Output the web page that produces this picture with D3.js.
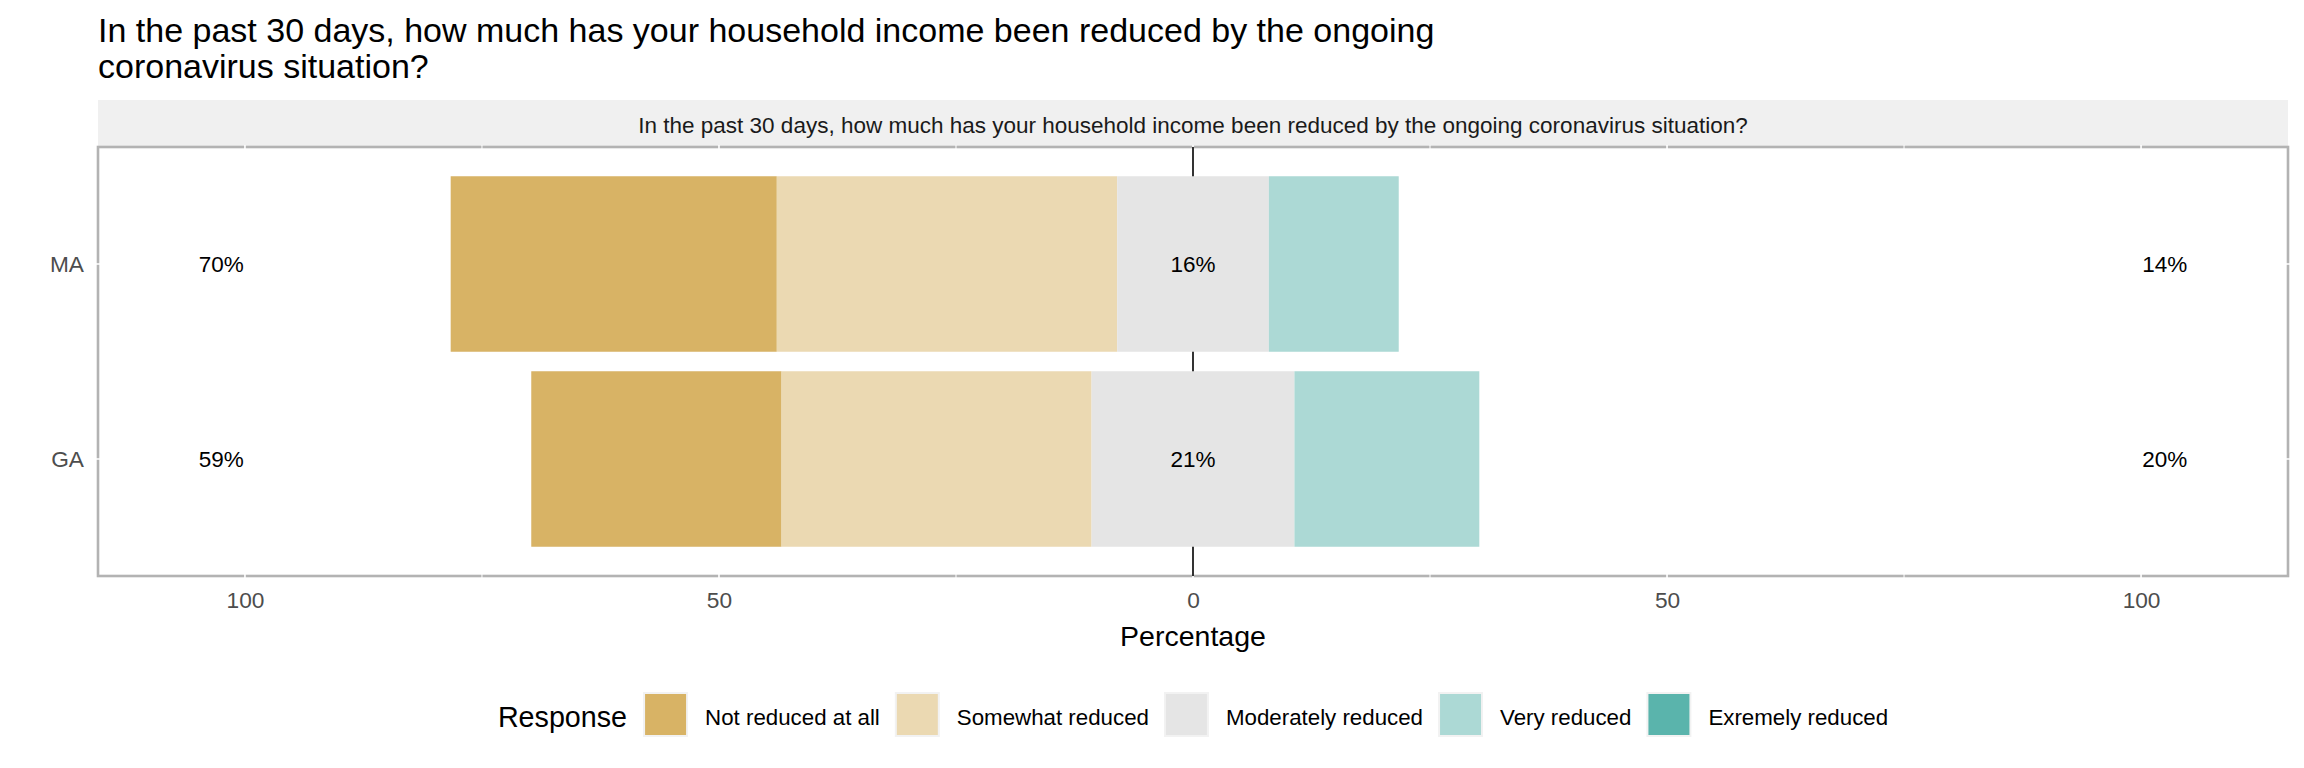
<!DOCTYPE html>
<html>
<head>
<meta charset="utf-8">
<script src="https://cdn.jsdelivr.net/npm/d3@7"></script>
<style>
  body { margin: 0; background: #fff; }
  svg { display: block; font-family: "Liberation Sans", Arial, sans-serif; }
</style>
</head>
<body>
<svg id="chart" width="2304" height="768"></svg>
<script>
// data
const groups = ["MA", "GA"];
const responses = ["Not reduced at all", "Somewhat reduced", "Moderately reduced", "Very reduced", "Exremely reduced"];
const notReduced = [34.4, 26.4];
const somewhatReduced = [35.9, 32.7];
const moderatelyReduced = [16.0, 21.4];
const veryReduced = [13.7, 19.5];
const extremelyReduced = [0, 0];
const xTicks = [-100, -50, 0, 50, 100];
const xMinor = [-75, -25, 25, 75];
const colors = ["#D8B365", "#EBD9B2", "#E5E5E5", "#ACD9D5", "#5AB4AC"];

const title = ["In the past 30 days, how much has your household income been reduced by the ongoing", "coronavirus situation?"];
const stripText = "In the past 30 days, how much has your household income been reduced by the ongoing coronavirus situation?";

const svg = d3.select("#chart");
const panel = { left: 98, right: 2288, top: 147, bottom: 576 };

const x = d3.scaleLinear().domain([-115.5, 115.5]).range([panel.left, panel.right]);
const y = d3.scalePoint().domain(groups).range([panel.top, panel.bottom]).padding(0.6);
const barH = y.step() * 0.9;

// build segments
const series = [notReduced, somewhatReduced, moderatelyReduced, veryReduced, extremelyReduced];
const segs = [];
groups.forEach((g, i) => {
  let start = -(notReduced[i] + somewhatReduced[i] + moderatelyReduced[i] / 2);
  series.forEach((s, k) => {
    segs.push({ group: g, k: k, x0: start, x1: start + s[i] });
    start += s[i];
  });
});

// title
svg.append("text")
  .attr("x", panel.left).attr("y", 42)
  .attr("font-size", 34).attr("fill", "#000")
  .selectAll("tspan").data(title).join("tspan")
  .attr("x", panel.left).attr("dy", (d, i) => i === 0 ? 0 : 36)
  .text(d => d);

// strip
svg.append("rect")
  .attr("x", panel.left).attr("y", 100)
  .attr("width", panel.right - panel.left).attr("height", panel.top - 100)
  .attr("fill", "#F0F0F0");
svg.append("text")
  .attr("x", (panel.left + panel.right) / 2).attr("y", 133)
  .attr("text-anchor", "middle").attr("font-size", 22.5).attr("fill", "#1A1A1A")
  .text(stripText);

// panel background with grey border
svg.append("rect")
  .attr("x", panel.left).attr("y", panel.top)
  .attr("width", panel.right - panel.left).attr("height", panel.bottom - panel.top)
  .attr("fill", "#fff").attr("stroke", "#B3B3B3").attr("stroke-width", 2.6);

// white grid lines
const grid = svg.append("g");
grid.selectAll(".vmaj").data(xTicks).join("line")
  .attr("x1", d => x(d)).attr("x2", d => x(d))
  .attr("y1", panel.top - 2).attr("y2", panel.bottom + 2)
  .attr("stroke", "#fff").attr("stroke-width", 1.6);
grid.selectAll(".vmin").data(xMinor).join("line")
  .attr("x1", d => x(d)).attr("x2", d => x(d))
  .attr("y1", panel.top - 2).attr("y2", panel.bottom + 2)
  .attr("stroke", "#fff").attr("stroke-width", 1);
grid.selectAll(".h").data(groups).join("line")
  .attr("x1", panel.left - 2).attr("x2", panel.right + 2)
  .attr("y1", d => y(d)).attr("y2", d => y(d))
  .attr("stroke", "#fff").attr("stroke-width", 1.6);

// zero line
svg.append("line")
  .attr("x1", x(0)).attr("x2", x(0))
  .attr("y1", panel.top).attr("y2", panel.bottom)
  .attr("stroke", "#000").attr("stroke-width", 1.6);

// bars
svg.append("g").selectAll("rect").data(segs.filter(d => d.x1 > d.x0)).join("rect")
  .attr("x", d => x(d.x0))
  .attr("width", d => x(d.x1) - x(d.x0))
  .attr("y", d => y(d.group) - barH / 2)
  .attr("height", barH)
  .attr("fill", d => colors[d.k]);

// percent labels
const labelPos = 102.5;
const labels = [];
groups.forEach((g, i) => {
  labels.push({ group: g, v: -labelPos, t: Math.round(notReduced[i] + somewhatReduced[i]) + "%" });
  labels.push({ group: g, v: 0, t: Math.round(moderatelyReduced[i]) + "%" });
  labels.push({ group: g, v: labelPos, t: Math.round(veryReduced[i] + extremelyReduced[i]) + "%" });
});
svg.append("g").selectAll("text").data(labels).join("text")
  .attr("x", d => x(d.v)).attr("y", d => y(d.group))
  .attr("dy", "0.35em").attr("text-anchor", "middle")
  .attr("font-size", 22.5).attr("fill", "#000")
  .text(d => d.t);

// x axis
const xAxis = svg.append("g")
  .attr("transform", `translate(0,${panel.bottom})`)
  .call(d3.axisBottom(x).tickValues(xTicks).tickFormat(d => Math.abs(d)).tickSize(0).tickPadding(16));
xAxis.select(".domain").remove();
xAxis.selectAll("text").attr("font-size", 22.7).attr("fill", "#4D4D4D").attr("font-family", null);

// y axis
const yAxis = svg.append("g")
  .attr("transform", `translate(${panel.left},0)`)
  .call(d3.axisLeft(y).tickSize(0).tickPadding(14));
yAxis.select(".domain").remove();
yAxis.selectAll("text").attr("font-size", 22.7).attr("fill", "#4D4D4D").attr("font-family", null);

// axis title
svg.append("text")
  .attr("x", (panel.left + panel.right) / 2).attr("y", 646)
  .attr("text-anchor", "middle").attr("font-size", 28.5).attr("fill", "#000")
  .text("Percentage");

// legend
const legend = svg.append("g");
const keySize = 45;
const legTitle = legend.append("text").attr("y", 727).attr("font-size", 28.7).attr("fill", "#000").text("Response");
const items = responses.map((r, k) => {
  const t = legend.append("text").attr("y", 725).attr("font-size", 22.3).attr("fill", "#000").text(r);
  return { t: t, w: t.node().getComputedTextLength(), k: k };
});
const titleW = legTitle.node().getComputedTextLength();
let total = titleW + 16;
items.forEach((it, i) => { total += keySize + 17 + it.w + (i < items.length - 1 ? 15 : 0); });
let cx = (panel.left + panel.right) / 2 - total / 2;
legTitle.attr("x", cx);
cx += titleW + 16;
items.forEach(it => {
  legend.append("rect")
    .attr("x", cx + 1).attr("y", 692 + 1)
    .attr("width", keySize - 2).attr("height", keySize - 2)
    .attr("fill", colors[it.k]).attr("stroke", "#F2F2F2").attr("stroke-width", 2);
  cx += keySize + 17;
  it.t.attr("x", cx);
  cx += it.w + 15;
});
</script>
</body>
</html>
